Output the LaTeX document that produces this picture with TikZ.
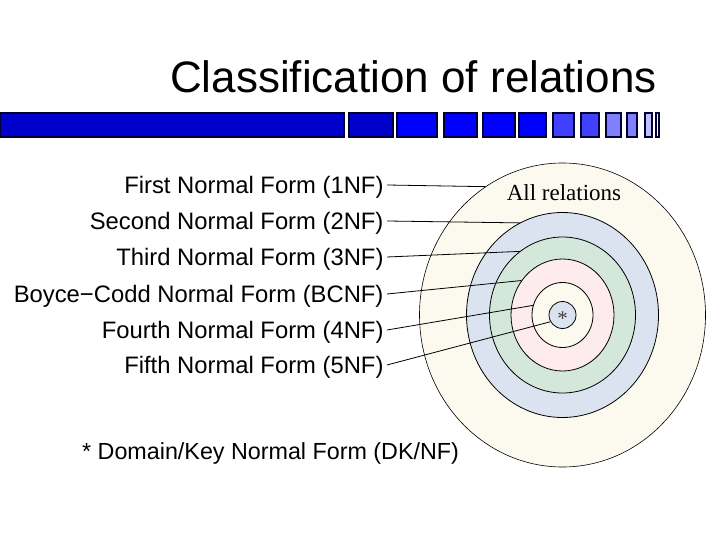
\documentclass[tikz,border=0pt]{standalone}
\usepackage{fontspec}
\setmainfont{Liberation Sans}
\newfontfamily\relserif{Liberation Serif}
\usetikzlibrary{shapes.geometric}
\definecolor{bardark}{HTML}{0000CC}
\definecolor{barblue}{HTML}{0000FF}
\definecolor{barmid}{HTML}{4040FF}
\definecolor{barlight}{HTML}{8080FF}
\definecolor{barpale}{HTML}{C0C0FF}
\definecolor{baredge}{HTML}{000033}
\definecolor{outerc}{HTML}{FCFAEE}
\definecolor{bluec}{HTML}{DCE3F0}
\definecolor{greenc}{HTML}{D3E8DA}
\definecolor{pinkc}{HTML}{FDEBEE}
\tikzset{
  lbl/.style={font=\fontsize{23.8}{28}\selectfont, text height=16.9pt, text depth=0pt},
  ring/.style={ellipse, draw=black, line width=0.8pt, inner sep=0pt, fill=#1},
  ring/.default=outerc,
  barseg/.style={draw=baredge, line width=1.5pt, fill=#1},
  lead/.style={line width=0.8pt},
}
\begin{document}
\begin{tikzpicture}[x=1pt, y=-1pt]
\useasboundingbox (0,0) rectangle (720,540);
% title and bar
\node[font=\fontsize{44}{50}\selectfont, anchor=base east, inner sep=0pt] (title) at (657,93) {Classification of relations};
\foreach \xa/\xb/\c in {0/344/bardark, 349/393/bardark, 397/437/barblue, 444/477/barblue, 483/515/barblue, 519/546/barblue, 553/574/barmid, 581/599/barmid, 606/621/barlight, 627/637/barlight, 645/652/barpale, 656/659/white}
  \draw[barseg=\c] (\xa,113) rectangle (\xb,137);
% nested rings
\coordinate (mid) at (562.5,315);
\node[ring=outerc, minimum width=286pt, minimum height=304pt, line width=0.6pt] (ring1) at (mid) {};
\node[ring=bluec, minimum width=192pt, minimum height=205pt] (ring2) at (mid) {};
\node[ring=greenc, minimum width=146pt, minimum height=156pt] (ring3) at (mid) {};
\node[ring=pinkc, minimum width=103pt, minimum height=112pt] (ring4) at (mid) {};
\node[ring=outerc, minimum width=61pt, minimum height=65pt] (ring5) at (mid) {};
\node[ring=bluec, minimum size=27pt] (ring6) at (mid) {};
\node[font=\relserif\fontsize{21}{24}\selectfont, text=black!75, anchor=base] (star) at ([yshift=-10pt]ring6.center) {*};
\node[font=\relserif\fontsize{23}{28}\selectfont, anchor=base, inner sep=0pt] (allrel) at (564,201) {All relations};
% labels
\node[lbl, anchor=east] (nf1) at (387,185) {First Normal Form (1NF)};
\node[lbl, anchor=east] (nf2) at (387,221) {Second Normal Form (2NF)};
\node[lbl, anchor=east] (nf3) at (387,257) {Third Normal Form (3NF)};
\node[lbl, anchor=east] (nf4) at (387,294) {Boyce−Codd Normal Form (BCNF)};
\node[lbl, anchor=east] (nf5) at (387,330) {Fourth Normal Form (4NF)};
\node[lbl, anchor=east] (nf6) at (387,365) {Fifth Normal Form (5NF)};
\node[lbl, font=\fontsize{23.3}{28}\selectfont, anchor=base west, inner sep=0pt] (dknf) at (82,459) {* Domain/Key Normal Form (DK/NF)};
% leaders
\draw[lead] (nf1.east) -- (ring1.121);
\draw[lead] (nf2.east) -- (ring2.115);
\draw[lead] (nf3.east) -- (ring3.124);
\draw[lead] (nf4.east) -- (ring4.140);
\draw[lead] (nf5.east) -- (ring5.162);
\draw[lead] (nf6.east) -- (ring6.209);
\end{tikzpicture}
\end{document}
